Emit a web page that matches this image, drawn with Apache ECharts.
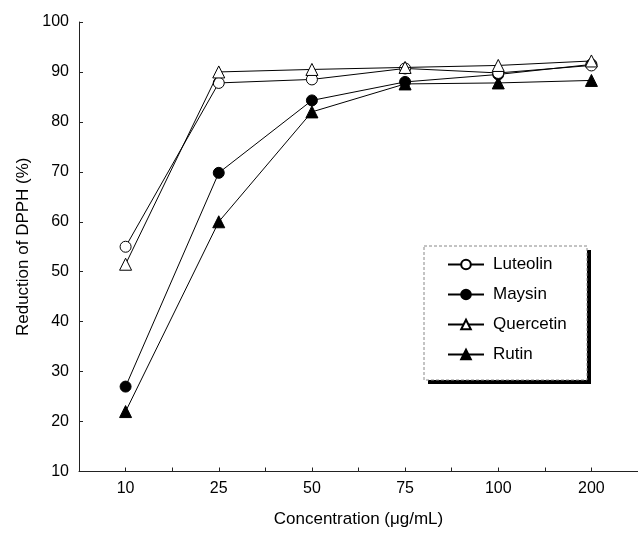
<!DOCTYPE html>
<html>
<head>
<meta charset="utf-8">
<script src="https://cdn.jsdelivr.net/npm/echarts@6/dist/echarts.min.js"></script>
<style>html,body{margin:0;padding:0;background:#fff}#c{width:638px;height:536px}</style>
</head>
<body>
<div id="c"></div>
<script>
const categories = ['10', '25', '50', '75', '100', '200'];
const luteolin = [55, 87.8, 88.5, 90.7, 89.8, 91.3];
const maysin = [27, 69.8, 84.3, 88, 89.5, 91.5];
const quercetin = [51.5, 90, 90.5, 90.9, 91.3, 92.2];
const rutin = [22, 60, 82, 87.6, 87.8, 88.3];
const yTicks = { min: 10, max: 100, interval: 10 };

const font = 'Liberation Sans, Arial, sans-serif';
function mk(name, data, symbol, filled, z) {
  return {
    name, type: 'line', data, symbol, symbolSize: symbol === 'circle' ? 11 : 12,
    z,
    lineStyle: { color: '#000', width: 1 },
    itemStyle: { color: filled ? '#000' : '#fff', borderColor: '#000', borderWidth: 1 },
    emphasis: { disabled: true },
    animation: false
  };
}
const chart = echarts.init(document.getElementById('c'), null, { renderer: 'canvas' });
chart.setOption({
  backgroundColor: '#fff',
  animation: false,
  grid: { left: 79, top: 22, width: 570, bottom: 64.5 },
  graphic: [{
    type: 'rect', z: 19, silent: true,
    shape: { x: 428, y: 250, width: 163, height: 134 },
    style: { fill: '#000' }
  }, {
    type: 'rect', z: 20, silent: true,
    shape: { x: 424, y: 246, width: 163, height: 134 },
    style: { fill: '#fff', stroke: '#888', lineWidth: 1, lineDash: [3, 2] }
  }],
  legend: {
    orient: 'vertical', left: 424, top: 246, z: 30,
    padding: [10, 20, 10, 23],
    itemGap: 13, itemWidth: 36, itemHeight: 12,
    textStyle: { fontFamily: font, fontSize: 17, color: '#000', padding: [0, 0, 0, 4] },
    data: ['Luteolin', 'Maysin', 'Quercetin', 'Rutin']
  },
  xAxis: [{
    type: 'category', data: categories, boundaryGap: true,
    name: 'Concentration (μg/mL)', nameLocation: 'middle', nameGap: 39,
    nameTextStyle: { fontFamily: font, fontSize: 17, color: '#000' },
    axisLine: { lineStyle: { color: '#222', width: 1 } },
    axisTick: { show: true, inside: true, length: 4, lineStyle: { color: '#222' } },
    axisLabel: { fontFamily: font, fontSize: 16, color: '#000', margin: 9 },
    splitLine: { show: false }
  }, {
    type: 'category', data: categories, boundaryGap: true, position: 'bottom',
    axisLine: { show: false },
    axisTick: { show: true, inside: true, length: 4, alignWithLabel: true, lineStyle: { color: '#222' } },
    axisLabel: { show: false }, splitLine: { show: false }
  }],
  yAxis: {
    type: 'value', min: yTicks.min, max: yTicks.max, interval: yTicks.interval,
    name: 'Reduction of DPPH (%)', nameLocation: 'middle', nameGap: 46,
    nameTextStyle: { fontFamily: font, fontSize: 17, color: '#000' },
    axisLine: { show: true, lineStyle: { color: '#222', width: 1 } },
    axisTick: { show: true, inside: true, length: 4, lineStyle: { color: '#222' } },
    axisLabel: { fontFamily: font, fontSize: 16, color: '#000', margin: 10 },
    splitLine: { show: false }
  },
  series: [
    mk('Luteolin', luteolin, 'circle', false, 4),
    mk('Maysin', maysin, 'circle', true, 2),
    mk('Quercetin', quercetin, 'triangle', false, 5),
    mk('Rutin', rutin, 'triangle', true, 3)
  ]
});
</script>
</body>
</html>
